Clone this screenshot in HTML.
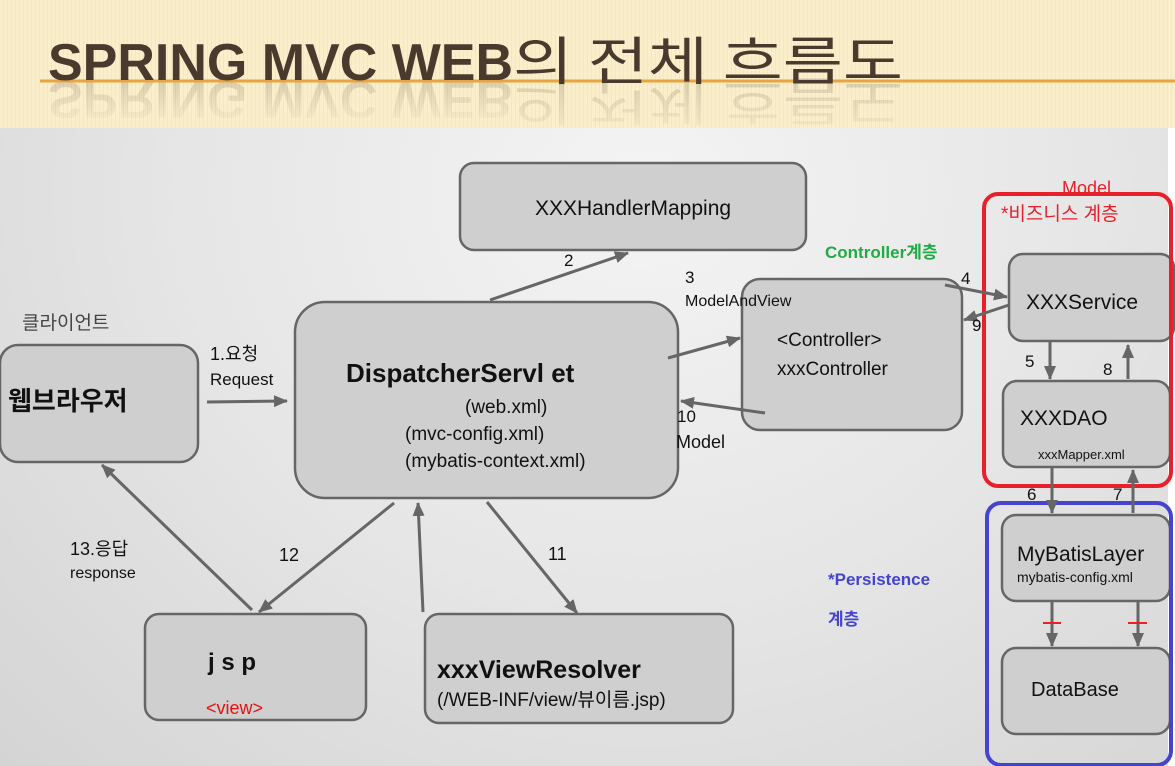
<!DOCTYPE html>
<html><head><meta charset="utf-8"><style>
html,body{margin:0;padding:0;width:1175px;height:766px;overflow:hidden;}
body{position:relative;font-family:"Liberation Sans","Noto Sans CJK KR",sans-serif;}
.hdr{position:absolute;left:0;top:0;width:1175px;height:128px;background:repeating-linear-gradient(90deg,#fbefcb 0 3px,#f6e6bb 3px 4px);}
.main{position:absolute;left:0;top:128px;width:1168px;height:638px;background:radial-gradient(ellipse at 55% 10%,#f4f4f4 0%,#e6e6e6 50%,#d4d4d4 100%);}
.strip{position:absolute;left:1168px;top:128px;width:7px;height:638px;background:#fff;}
</style></head><body>
<div class="hdr"></div>
<div class="main"></div>
<div class="strip"></div>
<svg width="1175" height="766" style="position:absolute;left:0;top:0" font-family="Liberation Sans, Noto Sans CJK KR, sans-serif">
<defs><marker id="b" markerWidth="14" markerHeight="12" refX="13" refY="6" orient="auto" markerUnits="userSpaceOnUse"><path d="M0,0 L14,6 L0,12 z" fill="#666"/></marker>
<linearGradient id="fade" x1="0" y1="0" x2="0" y2="1"><stop offset="0" stop-color="#4a3a2e" stop-opacity="0"/><stop offset="1" stop-color="#4a3a2e" stop-opacity="0.22"/></linearGradient></defs>
<g transform="translate(0,162) scale(1,-1)" fill="url(#fade)">
<text x="48" y="80" font-size="52" font-weight="bold" textLength="465" lengthAdjust="spacingAndGlyphs">SPRING MVC WEB</text>
<text x="513" y="80" font-size="52" font-family="Noto Sans CJK KR, sans-serif" textLength="390" lengthAdjust="spacingAndGlyphs">의 전체 흐름도</text>
</g>
<line x1="40" y1="81" x2="1175" y2="81" stroke="#e8a440" stroke-width="3"/>
<text x="48" y="80" font-size="52" font-weight="bold" fill="#4a3a2e" textLength="465" lengthAdjust="spacingAndGlyphs">SPRING MVC WEB</text>
<text x="513" y="80" font-size="52" fill="#4a3a2e" font-family="Noto Sans CJK KR, sans-serif" textLength="390" lengthAdjust="spacingAndGlyphs">의 전체 흐름도</text>
<g fill="#cfcfcf" stroke="#666" stroke-width="2.5">
<rect x="460" y="163" width="346" height="87" rx="14"/>
<rect x="0" y="345" width="198" height="117" rx="18"/>
<rect x="295" y="302" width="383" height="196" rx="30"/>
<rect x="742" y="279" width="220" height="151" rx="18"/>
<rect x="145" y="614" width="221" height="106" rx="14"/>
<rect x="425" y="614" width="308" height="109" rx="14"/>
<rect x="1009" y="254" width="165" height="87" rx="14"/>
<rect x="1003" y="381" width="167" height="86" rx="14"/>
<rect x="1002" y="515" width="168" height="86" rx="14"/>
<rect x="1002" y="648" width="168" height="86" rx="14"/>
</g>
<rect x="984" y="194" width="187" height="292" rx="14" fill="none" stroke="#e8202a" stroke-width="4"/>
<rect x="987" y="503" width="184" height="262" rx="14" fill="none" stroke="#4444cc" stroke-width="4"/>
<g stroke="#666" stroke-width="3" fill="none">
<line x1="490" y1="300" x2="628" y2="253" marker-end="url(#b)"/>
<line x1="207" y1="402" x2="287" y2="401" marker-end="url(#b)"/>
<line x1="668" y1="358" x2="740" y2="338" marker-end="url(#b)"/>
<line x1="765" y1="413" x2="681" y2="401" marker-end="url(#b)"/>
<line x1="945" y1="285" x2="1007" y2="297" marker-end="url(#b)"/>
<line x1="1009" y1="305" x2="964" y2="320" marker-end="url(#b)"/>
<line x1="394" y1="503" x2="259" y2="612" marker-end="url(#b)"/>
<line x1="252" y1="610" x2="102" y2="465" marker-end="url(#b)"/>
<line x1="423" y1="612" x2="418" y2="503" marker-end="url(#b)"/>
<line x1="487" y1="502" x2="577" y2="613" marker-end="url(#b)"/>
<line x1="1050" y1="341" x2="1050" y2="379" marker-end="url(#b)"/>
<line x1="1128" y1="379" x2="1128" y2="345" marker-end="url(#b)"/>
<line x1="1052" y1="467" x2="1052" y2="513" marker-end="url(#b)"/>
<line x1="1133" y1="513" x2="1133" y2="470" marker-end="url(#b)"/>
<line x1="1052" y1="601" x2="1052" y2="646" marker-end="url(#b)"/>
<line x1="1138" y1="601" x2="1138" y2="646" marker-end="url(#b)"/>
</g>
<line x1="1043" y1="623" x2="1061" y2="623" stroke="#e8202a" stroke-width="2"/>
<line x1="1128" y1="623" x2="1147" y2="623" stroke="#e8202a" stroke-width="2"/>
<g fill="#111">
<text x="633" y="215" font-size="21" text-anchor="middle">XXXHandlerMapping</text>
<text x="8" y="410" font-size="26" font-weight="bold">웹브라우저</text>
<text x="22" y="329" font-size="19" fill="#444">클라이언트</text>
<text x="210" y="360" font-size="18">1.요청</text>
<text x="210" y="385" font-size="17">Request</text>
<text x="346" y="382" font-size="26" font-weight="bold">DispatcherServl et</text>
<text x="465" y="413" font-size="19">(web.xml)</text>
<text x="405" y="440" font-size="19">(mvc-config.xml)</text>
<text x="405" y="467" font-size="19">(mybatis-context.xml)</text>
<text x="564" y="266" font-size="17">2</text>
<text x="685" y="283" font-size="17">3</text>
<text x="685" y="306" font-size="16">ModelAndView</text>
<text x="777" y="346" font-size="19">&lt;Controller&gt;</text>
<text x="777" y="375" font-size="19">xxxController</text>
<text x="677" y="422" font-size="17">10</text>
<text x="676" y="448" font-size="18">Model</text>
<text x="961" y="284" font-size="17">4</text>
<text x="972" y="331" font-size="17">9</text>
<text x="1026" y="309" font-size="21">XXXService</text>
<text x="1020" y="425" font-size="21">XXXDAO</text>
<text x="1038" y="459" font-size="13">xxxMapper.xml</text>
<text x="1025" y="367" font-size="17">5</text>
<text x="1103" y="375" font-size="17">8</text>
<text x="1027" y="500" font-size="17">6</text>
<text x="1113" y="500" font-size="17">7</text>
<text x="1017" y="561" font-size="21">MyBatisLayer</text>
<text x="1017" y="582" font-size="14">mybatis-config.xml</text>
<text x="1031" y="696" font-size="20">DataBase</text>
<text x="70" y="555" font-size="18">13.응답</text>
<text x="70" y="578" font-size="16">response</text>
<text x="279" y="561" font-size="18">12</text>
<text x="548" y="560" font-size="18">11</text>
<text x="208" y="670" font-size="24" font-weight="bold">j s p</text>
<text x="206" y="714" font-size="18" fill="#e81010">&lt;view&gt;</text>
<text x="437" y="678" font-size="25" font-weight="bold">xxxViewResolver</text>
<text x="437" y="706" font-size="19">(/WEB-INF/view/뷰이름.jsp)</text>
</g>
<text x="825" y="258" font-size="17" font-weight="bold" fill="#22aa44">Controller계층</text>
<text x="1062" y="194" font-size="18" fill="#e8202a">Model</text>
<text x="1001" y="220" font-size="19" fill="#e8202a">*비즈니스 계층</text>
<text x="828" y="585" font-size="17" font-weight="bold" fill="#4444cc">*Persistence</text>
<text x="828" y="625" font-size="17" font-weight="bold" fill="#4444cc">계층</text>
</svg>
</body></html>
